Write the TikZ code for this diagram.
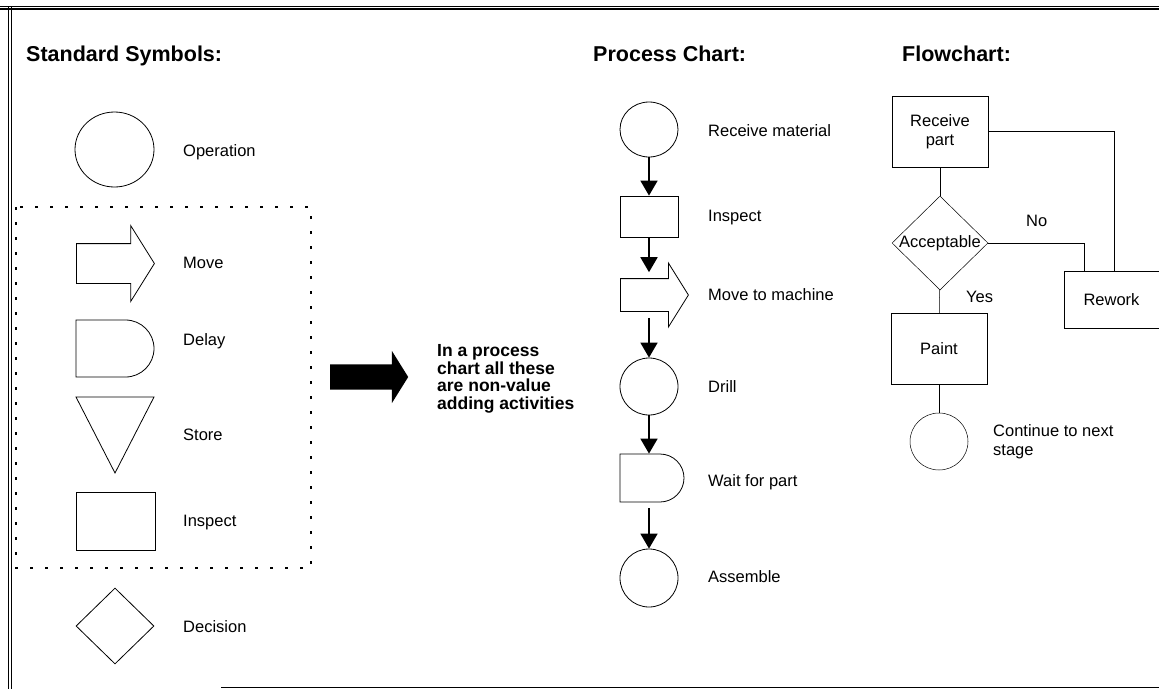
\documentclass[tikz,border=0pt]{standalone}
\usepackage{fontspec}
\setmainfont{Liberation Sans}
\usetikzlibrary{shapes.geometric, shapes.arrows, shapes.misc, arrows.meta}

\begin{document}
\begin{tikzpicture}[
    x=1pt, y=-1pt,
    symb/.style={
        draw,
        line width=0.8pt,
        inner sep=0pt
    },
    circ/.style={
        symb,
        ellipse
    },
    movesym/.style={
        symb,
        single arrow,
        single arrow tip angle=116,
        inner xsep=0pt,
        anchor=tail
    },
    delaysym/.style={
        symb,
        rounded rectangle,
        rounded rectangle left arc=none
    },
    flowbox/.style={
        draw,
        line width=0.5pt,
        inner sep=0pt,
        align=center,
        font=\fontsize{16.5}{18.5}\selectfont
    },
    lbl/.style={
        inner sep=0pt,
        anchor=base west,
        font=\fontsize{16.5}{19}\selectfont
    },
    title/.style={
        inner sep=0pt,
        anchor=base west,
        font=\bfseries\fontsize{21.5}{24}\selectfont
    },
    link/.style={
        line width=0.5pt
    },
    flowarrow/.style={
        line width=1.8pt,
        -{Triangle[width=17pt,length=15pt]}
    }
]

\useasboundingbox (0,0) rectangle (1159,689);

% ------------------------------------------------
% Frame
% ------------------------------------------------

\draw[line width=1pt] (0,6) -- (1159,6);
\draw[line width=1.5pt] (0,9) -- (1159,9);
\draw[line width=0.9pt] (8,7) -- (8,689);
\draw[line width=0.9pt] (11,7) -- (11,689);
\draw[line width=1.2pt] (221,687.5) -- (1159,687.5);

% ------------------------------------------------
% Titles
% ------------------------------------------------

\node[title] (ttlstd) at (26,61) {Standard Symbols:};
\node[title] (ttlproc) at (593,61) {Process Chart:};
\node[title] (ttlflow) at (902,61) {Flowchart:};

% ------------------------------------------------
% Standard symbols
% ------------------------------------------------

\node[circ, minimum width=79pt, minimum height=75pt] (op) at (114.5,149.5) {};
\node[lbl] (oplbl) at (183,156) {Operation};

\draw[line width=2.6pt, dash pattern=on 2.6pt off 12.4pt] (16,207) rectangle (311,568);

\node[movesym, inner ysep=19.5pt, single arrow head extend=18pt,
      minimum height=78pt] (mv) at (76,263.5) {};
\node[lbl] (mvlbl) at (183,268) {Move};

\node[delaysym, minimum width=78pt, minimum height=57pt] (dl) at (115,348.5) {};
\node[lbl] (dllbl) at (183,345) {Delay};

\draw[line width=0.8pt] (76,397) -- (154,397) -- (115,473) -- cycle;
\node[lbl] (stlbl) at (183,440) {Store};

\node[symb, minimum width=79pt, minimum height=58pt] (insp) at (115.5,521) {};
\node[lbl] (insplbl) at (183,526) {Inspect};

\node[symb, diamond, minimum width=78pt, minimum height=76pt] (dec) at (115,626) {};
\node[lbl] (declbl) at (183,632) {Decision};

% ------------------------------------------------
% Non-value note
% ------------------------------------------------

\node[single arrow, fill=black, inner sep=0pt, inner ysep=12.5pt,
      single arrow tip angle=116, single arrow head extend=13.5pt,
      minimum height=78pt, anchor=tail] (bigarrow) at (330,377) {};
\node[inner sep=0pt, anchor=west, align=left,
      font=\bfseries\fontsize{17.5}{17.6}\selectfont] (note) at (437,379) {
    In a process\\
    chart all these\\
    are non-value\\
    adding activities
};

% ------------------------------------------------
% Process chart
% ------------------------------------------------

\node[circ, minimum width=58pt, minimum height=55pt] (pc1) at (649,129.5) {};
\node[symb, minimum width=58pt, minimum height=41pt] (pc2) at (649,216.5) {};
\node[movesym, inner ysep=16pt, single arrow head extend=15.5pt,
      minimum height=68pt] (pc3) at (620,295) {};
\node[circ, minimum width=58pt, minimum height=57pt] (pc4) at (649,386.5) {};
\node[delaysym, minimum width=64pt, minimum height=48pt] (pc5) at (652,478) {};
\node[circ, minimum width=58pt, minimum height=58pt] (pc6) at (649,578) {};

\node[lbl] (pc1lbl) at (708,136) {Receive material};
\node[lbl] (pc2lbl) at (708,221) {Inspect};
\node[lbl] (pc3lbl) at (708,300) {Move to machine};
\node[lbl] (pc4lbl) at (708,392) {Drill};
\node[lbl] (pc5lbl) at (708,486) {Wait for part};
\node[lbl] (pc6lbl) at (708,582) {Assemble};

\draw[flowarrow] (pc1) -- (pc2);
\draw[flowarrow, shorten >=6pt] (pc2) -- (pc2 |- pc3.north);
\draw[flowarrow, shorten <=6pt] (pc3.south -| pc4) -- (pc4);
\draw[flowarrow] (pc4) -- (pc4 |- pc5.north);
\draw[flowarrow, shorten <=6pt] (pc5.south -| pc6) -- (pc6);

% ------------------------------------------------
% Flowchart
% ------------------------------------------------

\node[flowbox, minimum width=96pt, minimum height=71pt] (rpart) at (940,131.5) {Receive\\part};
\node[flowbox, diamond, minimum width=96pt, minimum height=94pt,
      label={[flowbox, draw=none]center:Acceptable}] (accept) at (940,243) {};
\node[flowbox, minimum width=95pt, minimum height=57pt] (rework) at (1111.5,299.5) {Rework};
\node[flowbox, minimum width=96pt, minimum height=71pt] (paint) at (939,348.5) {Paint};
\node[flowbox, ellipse, minimum width=58pt, minimum height=57pt] (cont) at (939,441.5) {};

\node[lbl] (nolbl) at (1026,226) {No};
\node[lbl] (yeslbl) at (966,302) {Yes};
\node[lbl, anchor=west, align=left] (contlbl) at (993,442) {Continue to next\\stage};

\draw[link] (rpart) -- (accept);
\draw[link] (accept.east) -| ([xshift=-27.5pt]rework.north);
\draw[link] (rpart.east) -| ([xshift=2.5pt]rework.north);
\draw[link] (accept) -- (paint);
\draw[link] (paint) -- (cont);

\end{tikzpicture}
\end{document}
